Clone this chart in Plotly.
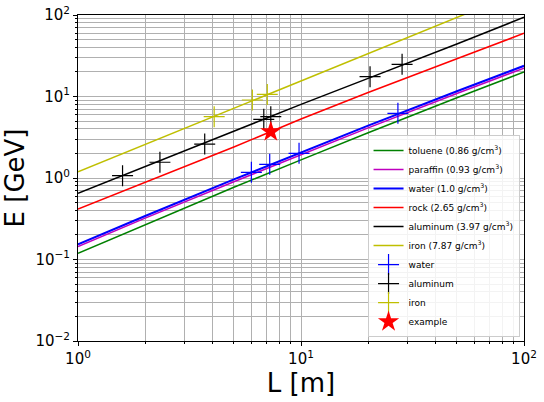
import plotly.graph_objects as go

# ---- data ----
L_pts = [1, 2, 5, 10, 20, 50, 100]
E_toluene = [0.119, 0.268, 0.769, 1.67, 3.59, 9.64, 20.0]
E_paraffin = [0.144, 0.322, 0.90, 1.94, 4.12, 10.9, 22.3]
E_water = [0.153, 0.342, 0.96, 2.07, 4.39, 11.6, 23.8]
E_rock = [0.417, 0.89, 2.40, 5.3, 11.2, 29.0, 59.6]
E_aluminum = [0.649, 1.39, 3.75, 8.0, 16.7, 44.0, 93.7]
E_iron = [1.19, 2.58, 7.2, 15.5, 33.6, 93.0, 202.0]

water_L = [5.99, 7.24, 9.8, 27.2]
water_E = [1.175, 1.47, 2.01, 6.22]
al_L = [1.584, 2.33, 3.70, 6.81, 7.32, 20.4, 28.4]
al_E = [1.067, 1.56, 2.61, 5.25, 5.65, 17.5, 24.8]
iron_L = [4.08, 6.05, 7.06]
iron_E = [5.65, 9.06, 10.6]
example_L = [7.32]
example_E = [3.70]

x_tickvals = [1, 10, 100]
x_ticktext = ["10<sup>0</sup>", "10<sup>1</sup>", "10<sup>2</sup>"]
y_tickvals = [0.01, 0.1, 1, 10, 100]
y_ticktext = ["10<sup>\u22122</sup>", "10<sup>\u22121</sup>", "10<sup>0</sup>",
              "10<sup>1</sup>", "10<sup>2</sup>"]
x_minor = [m * 10 ** n for n in range(0, 2) for m in range(2, 10)]
y_minor = [m * 10.0 ** n for n in range(-2, 2) for m in range(2, 10)]

materials = [
    ("toluene (0.86 g/cm<sup>3</sup>)", E_toluene, "#008000", 1.5),
    ("paraffin (0.93 g/cm<sup>3</sup>)", E_paraffin, "#bf00bf", 1.5),
    ("water (1.0 g/cm<sup>3</sup>)", E_water, "#0000ff", 2.0),
    ("rock (2.65 g/cm<sup>3</sup>)", E_rock, "#ff0000", 1.5),
    ("aluminum (3.97 g/cm<sup>3</sup>)", E_aluminum, "#000000", 1.5),
    ("iron (7.87 g/cm<sup>3</sup>)", E_iron, "#bfbf00", 1.5),
]

fig = go.Figure()
for name, ys, col, w in materials:
    fig.add_trace(go.Scatter(x=L_pts, y=ys, mode="lines", name=name,
                             line=dict(color=col, width=w)))

for name, xs, ys, col in [("water", water_L, water_E, "#0000ff"),
                          ("aluminum", al_L, al_E, "#000000"),
                          ("iron", iron_L, iron_E, "#bfbf00")]:
    fig.add_trace(go.Scatter(x=xs, y=ys, mode="markers", name=name,
                             marker=dict(symbol="cross-thin", size=15,
                                         line=dict(color=col, width=1.2))))

fig.add_trace(go.Scatter(x=example_L, y=example_E, mode="markers", name="example",
                         marker=dict(symbol="star", size=16, color="#ff0000",
                                     line=dict(width=0))))

axis_common = dict(
    type="log", showline=True, linecolor="black", linewidth=1, mirror=True,
    ticks="outside", ticklen=4, tickcolor="black", tickwidth=1,
    showgrid=True, gridcolor="#b0b0b0", gridwidth=0.8, zeroline=False,
    tickfont=dict(family="DejaVu Sans", size=15, color="black"),
)

fig.update_xaxes(range=[0, 2], tickmode="array", tickvals=x_tickvals, ticktext=x_ticktext,
                 minor=dict(tickmode="array", tickvals=x_minor, ticks="outside", ticklen=2,
                            tickcolor="black", showgrid=True, gridcolor="#b0b0b0", gridwidth=0.8),
                 title=dict(text="L [m]", font=dict(family="DejaVu Sans", size=26, color="black"),
                            standoff=6),
                 **axis_common)
fig.update_yaxes(range=[-2, 2], tickmode="array", tickvals=y_tickvals, ticktext=y_ticktext,
                 minor=dict(tickmode="array", tickvals=y_minor, ticks="outside", ticklen=2,
                            tickcolor="black", showgrid=True, gridcolor="#b0b0b0", gridwidth=0.8),
                 title=dict(text="E [GeV]", font=dict(family="DejaVu Sans", size=26, color="black"),
                            standoff=12),
                 **axis_common)

fig.update_layout(
    width=544, height=402,
    margin=dict(l=78, r=20, t=15, b=61, autoexpand=False),
    paper_bgcolor="white", plot_bgcolor="white",
    font=dict(family="DejaVu Sans", color="black"),
    legend=dict(x=0.99, y=0.012, xanchor="right", yanchor="bottom",
                bgcolor="rgba(255,255,255,0.85)", bordercolor="#cccccc", borderwidth=1,
                font=dict(family="DejaVu Sans", size=9, color="black"),
                tracegroupgap=0, itemwidth=30),
    showlegend=True,
)

fig.write_html("out.html", config={"displayModeBar": False},
               post_script="document.body.style.margin='0px';document.body.style.padding='0px';")
